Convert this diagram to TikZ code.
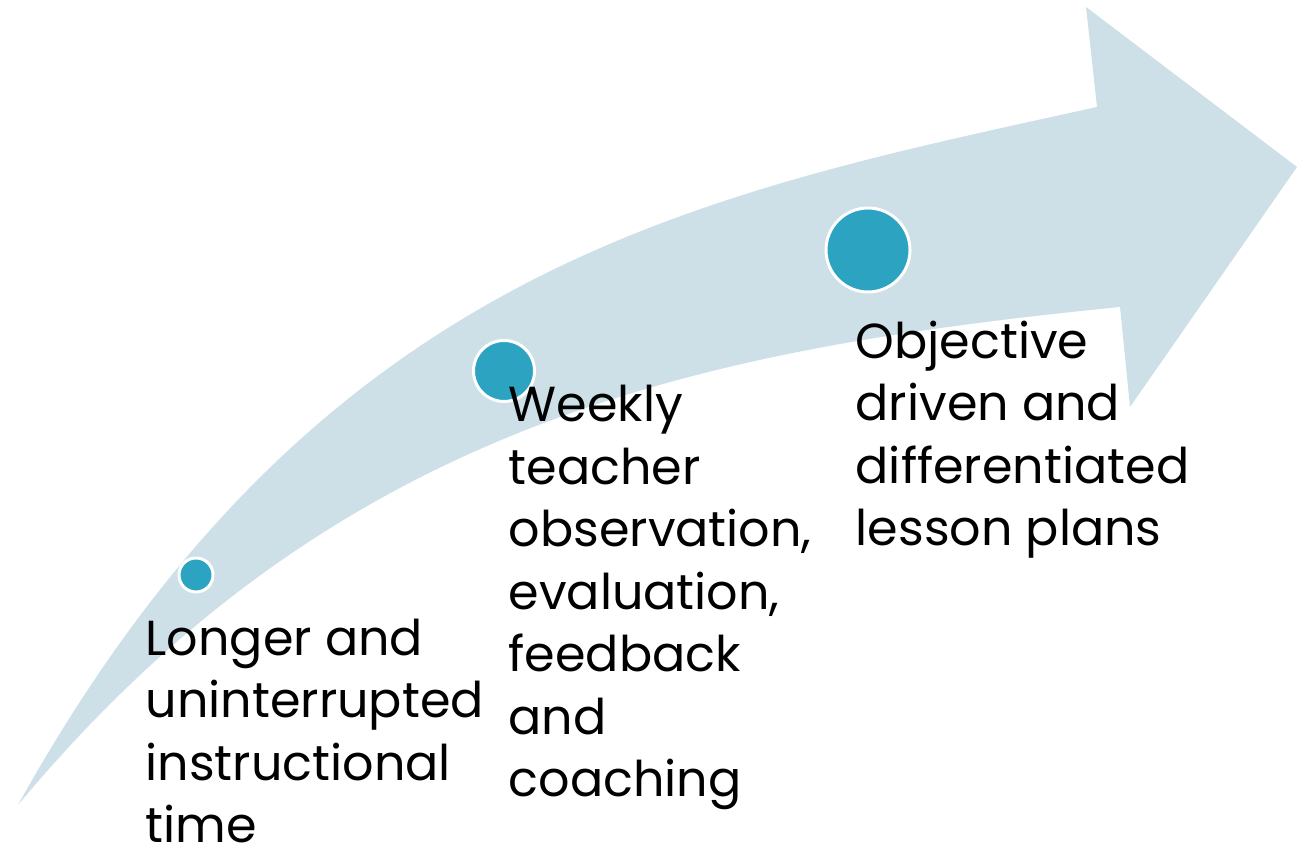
\documentclass[tikz,border=0pt]{standalone}
\usepackage{fontspec}
\setmainfont{Poppins}
\usetikzlibrary{positioning}
\definecolor{bandblue}{RGB}{205,224,232}
\definecolor{dotblue}{RGB}{44,163,193}
\tikzset{
  bulletdot/.style={circle,fill=dotblue,draw=white,line width=0.85pt,inner sep=0pt},
  steptext/.style={anchor=base west,inner sep=0pt,text depth=0pt,font=\fontsize{14}{17.8}\selectfont}
}
\begin{document}
\begin{tikzpicture}
  \useasboundingbox (0,0) rectangle (12.97,8.47);
  %%% the arrow
  % upper edge, head, then lower edge back to the tail
  \fill[bandblue] (0.18,0.42) .. controls (3.18,5.82) and (6.97,6.52) .. (10.97,7.40)
    -- (10.86,8.40) -- (12.97,6.80) -- (11.30,4.40) -- (11.20,5.40)
    .. controls (7.00,4.98) and (3.38,4.26) .. (0.18,0.42) -- cycle;
  %% the dots
  \node[bulletdot,minimum size=0.34cm] (dot1) at (1.96,2.72) {};
  \node[bulletdot,minimum size=0.61cm] (dot2) at (5.04,4.76) {};
  \node[bulletdot,minimum size=0.84cm] (dot3) at (8.68,5.97) {};
  %% the texts (placed at the baseline of the last line)
  \node[steptext] (txt1) at (1.45,0.04)
    {\begin{tabular}[b]{@{}l@{}}Longer and\\uninterrupted\\instructional\\time\end{tabular}};
  \node[steptext] (txt2) at (5.08,0.50)
    {\begin{tabular}[b]{@{}l@{}}Weekly\\teacher\\observation,\\evaluation,\\feedback\\and\\coaching\end{tabular}};
  \node[steptext] (txt3) at (8.55,3.01)
    {\begin{tabular}[b]{@{}l@{}}Objective\\driven and\\differentiated\\lesson plans\end{tabular}};
\end{tikzpicture}
\end{document}
